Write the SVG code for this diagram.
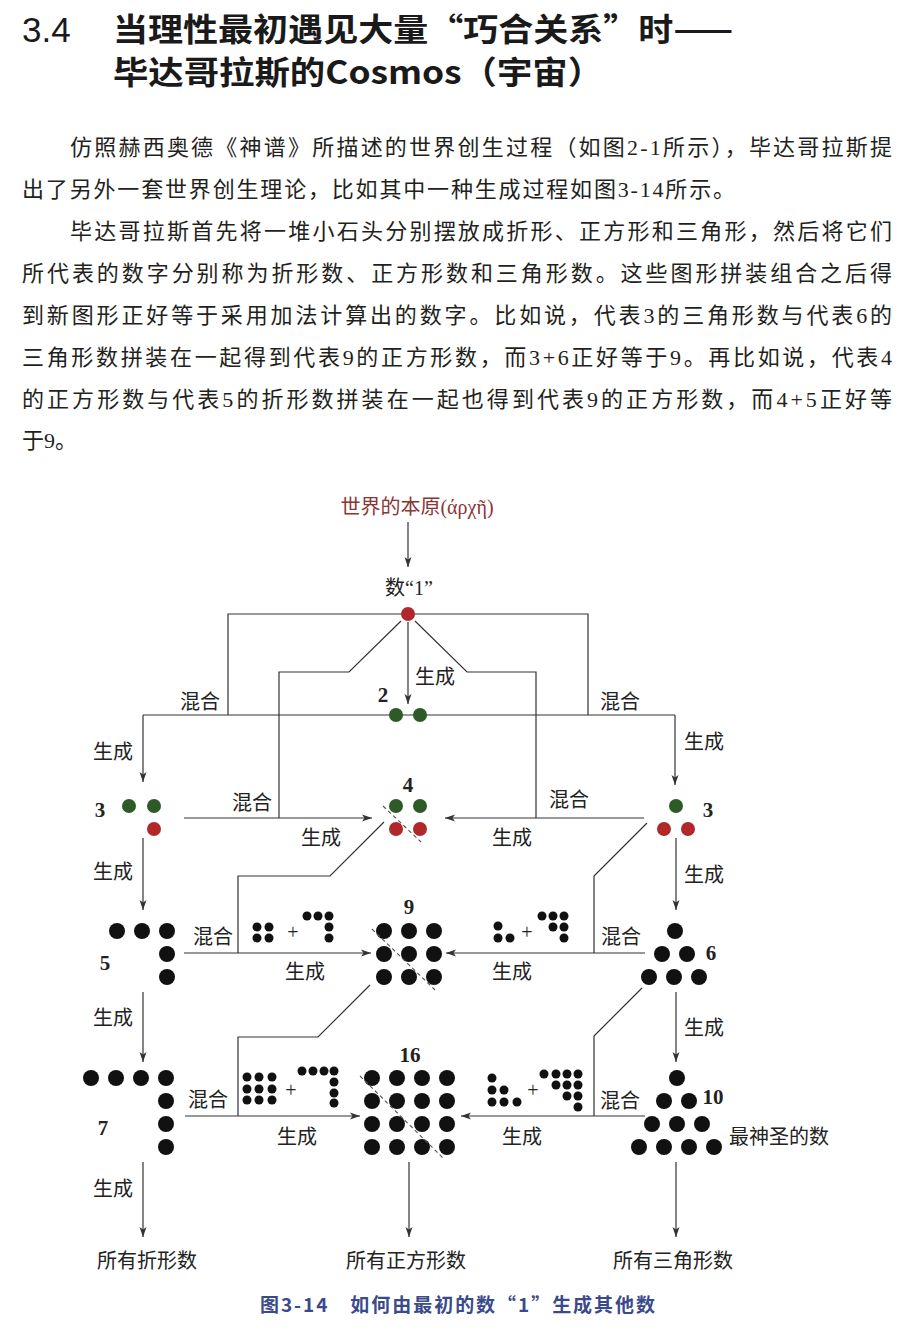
<svg xmlns="http://www.w3.org/2000/svg" width="904" height="1330" viewBox="0 0 904 1330">
<style>
.h{font-family:"Noto Sans CJK SC","Liberation Sans",sans-serif;font-weight:700;font-size:32px;fill:#1a1a1a}
.hn{font-family:"Liberation Sans","Noto Sans CJK SC",sans-serif;font-size:35px;fill:#1a1a1a}
.p{font-family:"Liberation Serif","Noto Sans CJK SC",serif;font-size:22px;fill:#231f20}
.t{font-family:"Liberation Serif","Noto Sans CJK SC",serif;font-size:20px;fill:#222}
.n{font-family:"Liberation Serif","Noto Sans CJK SC",serif;font-size:21px;font-weight:700;fill:#222;text-anchor:middle}
.top{fill:#8b3535;text-anchor:middle}
.cap{font-family:"Noto Sans CJK SC","Liberation Sans",sans-serif;font-size:19px;font-weight:700;fill:#3b4a8a}
.c{fill:none;stroke:#333;stroke-width:1.2}
.d{fill:none;stroke:#555;stroke-width:1.1;stroke-dasharray:4 3}
.r{fill:#b0282a}.g{fill:#2d5a27}.k{fill:#111}
</style>
<defs>
<marker id="a" markerUnits="userSpaceOnUse" markerWidth="11" markerHeight="8" refX="10" refY="4" orient="auto">
<path d="M0,0.5 L10,4 L0,7.5 L2.5,4 z" fill="#333"/>
</marker>
</defs>
<rect width="904" height="1330" fill="#fff"/>
<g id="heading">
<text class="hn" x="22" y="42">3.4</text>
<text class="h" x="113" y="41" textLength="620" lengthAdjust="spacingAndGlyphs">当理性最初遇见大量“巧合关系”时——</text>
<text class="h" x="113" y="84" textLength="490" lengthAdjust="spacingAndGlyphs">毕达哥拉斯的Cosmos（宇宙）</text>
</g>
<g id="body">
<text class="p" x="70" y="155" textLength="822" lengthAdjust="spacing">仿照赫西奥德《神谱》所描述的世界创生过程（如图2-1所示），毕达哥拉斯提</text>
<text class="p" x="22" y="197" textLength="713" lengthAdjust="spacing">出了另外一套世界创生理论，比如其中一种生成过程如图3-14所示。</text>
<text class="p" x="70" y="239" textLength="822" lengthAdjust="spacing">毕达哥拉斯首先将一堆小石头分别摆放成折形、正方形和三角形，然后将它们</text>
<text class="p" x="22" y="281" textLength="870" lengthAdjust="spacing">所代表的数字分别称为折形数、正方形数和三角形数。这些图形拼装组合之后得</text>
<text class="p" x="22" y="323" textLength="870" lengthAdjust="spacing">到新图形正好等于采用加法计算出的数字。比如说，代表3的三角形数与代表6的</text>
<text class="p" x="22" y="365" textLength="870" lengthAdjust="spacing">三角形数拼装在一起得到代表9的正方形数，而3+6正好等于9。再比如说，代表4</text>
<text class="p" x="22" y="407" textLength="870" lengthAdjust="spacing">的正方形数与代表5的折形数拼装在一起也得到代表9的正方形数，而4+5正好等</text>
<text class="p" x="22" y="448">于9。</text>
</g>
<g id="connectors">
<path class="c" d="M408,522 V567" marker-end="url(#a)"/>
<path class="c" d="M228,715 V614 H588 V715"/>
<path class="c" d="M143,715 H675"/>
<path class="c" d="M143,715 V782" marker-end="url(#a)"/>
<path class="c" d="M675,715 V785" marker-end="url(#a)"/>
<path class="c" d="M408,622 V704" marker-end="url(#a)"/>
<path class="c" d="M401,621 L349,672 H279 V818"/>
<path class="c" d="M415,621 L467,672 H536 V818"/>
<path class="c" d="M184,818 H372" marker-end="url(#a)"/>
<path class="c" d="M644,818 H445" marker-end="url(#a)"/>
<path class="c" d="M384,822 L330,876 H238 V953"/>
<path class="c" d="M647,823 L594,876 V953"/>
<path class="c" d="M143,838 V910" marker-end="url(#a)"/>
<path class="c" d="M676,838 V910" marker-end="url(#a)"/>
<path class="c" d="M184,953 H371" marker-end="url(#a)"/>
<path class="c" d="M645,953 H446" marker-end="url(#a)"/>
<path class="c" d="M370,985 L318,1037 H238 V1116"/>
<path class="c" d="M642,988 L594,1036 V1116"/>
<path class="c" d="M143,992 V1062" marker-end="url(#a)"/>
<path class="c" d="M676,992 V1062" marker-end="url(#a)"/>
<path class="c" d="M185,1116 H360" marker-end="url(#a)"/>
<path class="c" d="M645,1116 H461" marker-end="url(#a)"/>
<path class="c" d="M143,1162 V1237" marker-end="url(#a)"/>
<path class="c" d="M409,1162 V1237" marker-end="url(#a)"/>
<path class="c" d="M676,1162 V1237" marker-end="url(#a)"/>
</g>
<g id="connector-labels">
<text class="t" x="415" y="684">生成</text>
<text class="t" x="180" y="709">混合</text>
<text class="t" x="600" y="709">混合</text>
<text class="t" x="93" y="759">生成</text>
<text class="t" x="684" y="749">生成</text>
<text class="t" x="232" y="810">混合</text>
<text class="t" x="549" y="807">混合</text>
<text class="t" x="301" y="845">生成</text>
<text class="t" x="492" y="845">生成</text>
<text class="t" x="93" y="879">生成</text>
<text class="t" x="684" y="882">生成</text>
<text class="t" x="193" y="944">混合</text>
<text class="t" x="601" y="944">混合</text>
<text class="t" x="285" y="979">生成</text>
<text class="t" x="492" y="979">生成</text>
<text class="t" x="93" y="1025">生成</text>
<text class="t" x="684" y="1035">生成</text>
<text class="t" x="188" y="1107">混合</text>
<text class="t" x="600" y="1108">混合</text>
<text class="t" x="277" y="1144">生成</text>
<text class="t" x="502" y="1144">生成</text>
<text class="t" x="93" y="1196">生成</text>
</g>
<g id="origin"><text class="t top" x="417" y="514">世界的本原(άρχῆ)</text></g>
<g id="n1">
<text class="t" x="409" y="595" text-anchor="middle">数“1”</text>
<circle class="r" cx="408" cy="614" r="7"/>
</g>
<g id="n2">
<text class="n" x="383" y="702">2</text>
<circle class="g" cx="396" cy="715" r="7"/><circle class="g" cx="420" cy="715" r="7"/>
</g>
<g id="n3-left">
<text class="n" x="100" y="817">3</text>
<circle class="g" cx="129" cy="806" r="7"/><circle class="g" cx="154" cy="806" r="7"/>
<circle class="r" cx="154" cy="829" r="7"/>
</g>
<g id="n4">
<text class="n" x="408" y="792">4</text>
<circle class="g" cx="396" cy="806" r="7"/><circle class="g" cx="420" cy="806" r="7"/>
<circle class="r" cx="396" cy="829" r="7"/><circle class="r" cx="420" cy="829" r="7"/>
<path class="d" d="M383,806 L421,842"/>
</g>
<g id="n3-right">
<text class="n" x="708" y="817">3</text>
<circle class="g" cx="676" cy="806" r="7"/>
<circle class="r" cx="664" cy="829" r="7"/><circle class="r" cx="688" cy="829" r="7"/>
</g>
<g id="n5">
<text class="n" x="105" y="970">5</text>
<circle class="k" cx="117" cy="931" r="8"/><circle class="k" cx="142" cy="931" r="8"/><circle class="k" cx="167" cy="931" r="8"/>
<circle class="k" cx="167" cy="954" r="8"/><circle class="k" cx="167" cy="977" r="8"/>
</g>
<g id="combo-4-5">
<circle class="k" cx="257" cy="927" r="4.5"/><circle class="k" cx="269" cy="927" r="4.5"/>
<circle class="k" cx="257" cy="938" r="4.5"/><circle class="k" cx="269" cy="938" r="4.5"/>
<text class="t" x="293" y="939" font-size="14" text-anchor="middle">+</text>
<circle class="k" cx="307" cy="916" r="4.5"/><circle class="k" cx="318" cy="916" r="4.5"/><circle class="k" cx="329" cy="916" r="4.5"/>
<circle class="k" cx="329" cy="927" r="4.5"/><circle class="k" cx="329" cy="938" r="4.5"/>
</g>
<g id="n9">
<text class="n" x="409" y="914">9</text>
<circle class="k" cx="384" cy="931" r="8"/><circle class="k" cx="409" cy="931" r="8"/><circle class="k" cx="434" cy="931" r="8"/>
<circle class="k" cx="384" cy="954" r="8"/><circle class="k" cx="409" cy="954" r="8"/><circle class="k" cx="434" cy="954" r="8"/>
<circle class="k" cx="384" cy="977" r="8"/><circle class="k" cx="409" cy="977" r="8"/><circle class="k" cx="434" cy="977" r="8"/>
<path class="d" d="M372,929 L435,990"/>
</g>
<g id="combo-3-6">
<circle class="k" cx="498" cy="926" r="4.5"/>
<circle class="k" cx="498" cy="938" r="4.5"/><circle class="k" cx="510" cy="938" r="4.5"/>
<text class="t" x="527" y="939" font-size="14" text-anchor="middle">+</text>
<circle class="k" cx="542" cy="916" r="4.5"/><circle class="k" cx="553" cy="916" r="4.5"/><circle class="k" cx="564" cy="916" r="4.5"/>
<circle class="k" cx="553" cy="927" r="4.5"/><circle class="k" cx="564" cy="927" r="4.5"/>
<circle class="k" cx="564" cy="938" r="4.5"/>
</g>
<g id="n6">
<text class="n" x="711" y="960">6</text>
<circle class="k" cx="675" cy="931" r="8"/>
<circle class="k" cx="662" cy="954" r="8"/><circle class="k" cx="687" cy="954" r="8"/>
<circle class="k" cx="649" cy="977" r="8"/><circle class="k" cx="674" cy="977" r="8"/><circle class="k" cx="699" cy="977" r="8"/>
</g>
<g id="n7">
<text class="n" x="103" y="1135">7</text>
<circle class="k" cx="91" cy="1078" r="8"/><circle class="k" cx="116" cy="1078" r="8"/><circle class="k" cx="141" cy="1078" r="8"/><circle class="k" cx="166" cy="1078" r="8"/>
<circle class="k" cx="166" cy="1101" r="8"/><circle class="k" cx="166" cy="1124" r="8"/><circle class="k" cx="166" cy="1147" r="8"/>
</g>
<g id="combo-9-7">
<circle class="k" cx="247" cy="1077" r="4.5"/><circle class="k" cx="259" cy="1077" r="4.5"/><circle class="k" cx="272" cy="1077" r="4.5"/>
<circle class="k" cx="247" cy="1089" r="4.5"/><circle class="k" cx="259" cy="1089" r="4.5"/><circle class="k" cx="272" cy="1089" r="4.5"/>
<circle class="k" cx="247" cy="1100" r="4.5"/><circle class="k" cx="259" cy="1100" r="4.5"/><circle class="k" cx="272" cy="1100" r="4.5"/>
<text class="t" x="291" y="1097" font-size="14" text-anchor="middle">+</text>
<circle class="k" cx="302" cy="1071" r="4.5"/><circle class="k" cx="313" cy="1071" r="4.5"/><circle class="k" cx="324" cy="1071" r="4.5"/><circle class="k" cx="334" cy="1071" r="4.5"/>
<circle class="k" cx="334" cy="1082" r="4.5"/><circle class="k" cx="334" cy="1093" r="4.5"/><circle class="k" cx="334" cy="1103" r="4.5"/>
</g>
<g id="n16">
<text class="n" x="410" y="1062">16</text>
<circle class="k" cx="372" cy="1078" r="8"/><circle class="k" cx="397" cy="1078" r="8"/><circle class="k" cx="422" cy="1078" r="8"/><circle class="k" cx="447" cy="1078" r="8"/>
<circle class="k" cx="372" cy="1101" r="8"/><circle class="k" cx="397" cy="1101" r="8"/><circle class="k" cx="422" cy="1101" r="8"/><circle class="k" cx="447" cy="1101" r="8"/>
<circle class="k" cx="372" cy="1124" r="8"/><circle class="k" cx="397" cy="1124" r="8"/><circle class="k" cx="422" cy="1124" r="8"/><circle class="k" cx="447" cy="1124" r="8"/>
<circle class="k" cx="372" cy="1147" r="8"/><circle class="k" cx="397" cy="1147" r="8"/><circle class="k" cx="422" cy="1147" r="8"/><circle class="k" cx="447" cy="1147" r="8"/>
<path class="d" d="M360,1076 L443,1158"/>
</g>
<g id="combo-6-10">
<circle class="k" cx="492" cy="1078" r="4.5"/>
<circle class="k" cx="492" cy="1090" r="4.5"/><circle class="k" cx="504" cy="1090" r="4.5"/>
<circle class="k" cx="492" cy="1102" r="4.5"/><circle class="k" cx="504" cy="1102" r="4.5"/><circle class="k" cx="517" cy="1102" r="4.5"/>
<text class="t" x="533" y="1097" font-size="14" text-anchor="middle">+</text>
<circle class="k" cx="544" cy="1074" r="4.5"/><circle class="k" cx="556" cy="1074" r="4.5"/><circle class="k" cx="567" cy="1074" r="4.5"/><circle class="k" cx="578" cy="1074" r="4.5"/>
<circle class="k" cx="556" cy="1085" r="4.5"/><circle class="k" cx="567" cy="1085" r="4.5"/><circle class="k" cx="578" cy="1085" r="4.5"/>
<circle class="k" cx="567" cy="1096" r="4.5"/><circle class="k" cx="578" cy="1096" r="4.5"/>
<circle class="k" cx="578" cy="1107" r="4.5"/>
</g>
<g id="n10">
<text class="n" x="713" y="1104">10</text>
<text class="t" x="729" y="1144">最神圣的数</text>
<circle class="k" cx="677" cy="1078" r="8"/>
<circle class="k" cx="664" cy="1101" r="8"/><circle class="k" cx="689" cy="1101" r="8"/>
<circle class="k" cx="652" cy="1124" r="8"/><circle class="k" cx="677" cy="1124" r="8"/><circle class="k" cx="702" cy="1124" r="8"/>
<circle class="k" cx="639" cy="1147" r="8"/><circle class="k" cx="664" cy="1147" r="8"/><circle class="k" cx="689" cy="1147" r="8"/><circle class="k" cx="714" cy="1147" r="8"/>
</g>
<g id="out-gnomon"><text class="t" x="147" y="1268" text-anchor="middle">所有折形数</text></g>
<g id="out-square"><text class="t" x="406" y="1268" text-anchor="middle">所有正方形数</text></g>
<g id="out-triangle"><text class="t" x="673" y="1268" text-anchor="middle">所有三角形数</text></g>
<g id="caption"><text class="cap" x="260" y="1312" textLength="395" lengthAdjust="spacing">图3-14　如何由最初的数“1”生成其他数</text></g>
</svg>
